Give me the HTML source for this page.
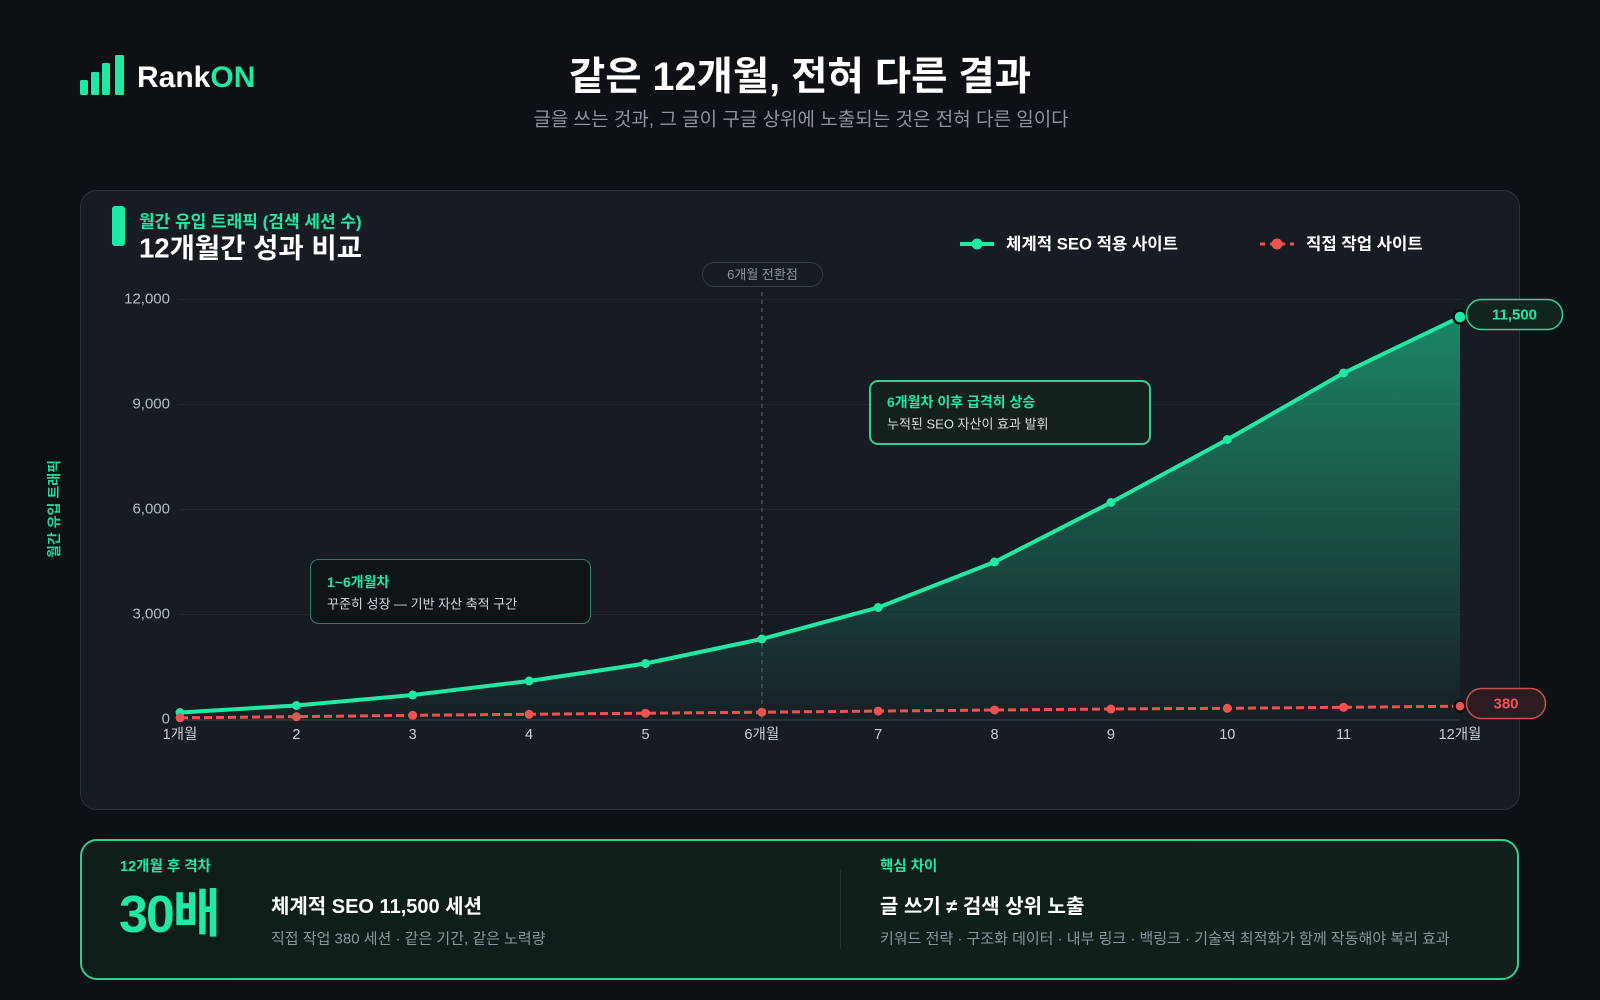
<!DOCTYPE html>
<html lang="ko">
<head>
<meta charset="utf-8">
<style>
  html,body{margin:0;padding:0;background:#0d1015;}
  body{width:1600px;height:1000px;overflow:hidden;}
  svg{display:block;}
  text{font-family:"Liberation Sans","Noto Sans CJK KR",sans-serif;}
</style>
</head>
<body>
<svg width="1600" height="1000" viewBox="0 0 1600 1000" xmlns="http://www.w3.org/2000/svg">
  <defs>
    <linearGradient id="gfill" x1="0" y1="317" x2="0" y2="720" gradientUnits="userSpaceOnUse">
      <stop offset="0" stop-color="#20f0aa" stop-opacity="0.5"/>
      <stop offset="1" stop-color="#20f0aa" stop-opacity="0.02"/>
    </linearGradient>
    <linearGradient id="bottombg" x1="0" y1="0" x2="1" y2="0">
      <stop offset="0" stop-color="#0f1d1a"/>
      <stop offset="1" stop-color="#10201d"/>
    </linearGradient>
  </defs>

  <!-- background -->
  <rect x="0" y="0" width="1600" height="1000" fill="#0d1015"/>

  <!-- logo -->
  <rect x="80" y="80" width="8" height="15" rx="1.5" fill="#1fe9a3"/>
  <rect x="91" y="72" width="8" height="23" rx="1.5" fill="#1fe9a3"/>
  <rect x="102" y="63" width="8" height="32" rx="1.5" fill="#1fe9a3"/>
  <rect x="115" y="55" width="9" height="40" rx="1.5" fill="#1fe9a3"/>
  <text x="137" y="87" font-size="30" font-weight="bold" fill="#ffffff">Rank<tspan fill="#1fe9a3">ON</tspan></text>

  <!-- title -->
  <text x="800" y="77" font-size="39.5" font-weight="bold" fill="#ffffff" text-anchor="middle" dominant-baseline="central">같은 12개월, 전혀 다른 결과</text>
  <text x="801" y="120" font-size="19" fill="#8b939d" text-anchor="middle" dominant-baseline="central">글을 쓰는 것과, 그 글이 구글 상위에 노출되는 것은 전혀 다른 일이다</text>

  <!-- chart card -->
  <rect x="80.5" y="190.5" width="1439" height="619" rx="16" fill="#171b22" stroke="#2a3039" stroke-width="1"/>

  <!-- card header -->
  <rect x="112" y="206" width="13" height="40" rx="3" fill="#1fe9a3"/>
  <text x="139" y="222" font-size="17" font-weight="bold" fill="#1fe9a3" dominant-baseline="central">월간 유입 트래픽 (검색 세션 수)</text>
  <text x="139" y="248" font-size="27.5" font-weight="bold" fill="#ffffff" dominant-baseline="central">12개월간 성과 비교</text>

  <!-- legend -->
  <line x1="960" y1="244" x2="994" y2="244" stroke="#1fe9a3" stroke-width="4"/>
  <circle cx="977" cy="244" r="5.5" fill="#1fe9a3"/>
  <text x="1006" y="244" font-size="16.7" font-weight="bold" fill="#ffffff" dominant-baseline="central">체계적 SEO 적용 사이트</text>
  <line x1="1260" y1="244" x2="1294" y2="244" stroke="#ef5350" stroke-width="3" stroke-dasharray="5 5"/>
  <circle cx="1277" cy="244" r="5.5" fill="#ef5350"/>
  <text x="1306" y="244" font-size="16.7" font-weight="bold" fill="#ffffff" dominant-baseline="central">직접 작업 사이트</text>

  <!-- 6 month pill -->
  <rect x="702.5" y="262.5" width="120" height="24" rx="12" fill="#171b22" stroke="#353c45" stroke-width="1"/>
  <text x="762.5" y="274.5" font-size="13" fill="#8d96a0" text-anchor="middle" dominant-baseline="central">6개월 전환점</text>

  <!-- gridlines -->
  <g stroke="#22272f" stroke-width="1">
    <line x1="180" y1="299.5" x2="1460" y2="299.5"/>
    <line x1="180" y1="404.5" x2="1460" y2="404.5"/>
    <line x1="180" y1="509.5" x2="1460" y2="509.5"/>
    <line x1="180" y1="614.5" x2="1460" y2="614.5"/>
  </g>

  <!-- y labels -->
  <g font-size="15" fill="#b4bcc5" text-anchor="end" dominant-baseline="central">
    <text x="170" y="299">12,000</text>
    <text x="170" y="404">9,000</text>
    <text x="170" y="509">6,000</text>
    <text x="170" y="614">3,000</text>
    <text x="170" y="719">0</text>
  </g>

  <!-- y axis title -->
  <text transform="translate(54,509) rotate(-90)" font-size="14" font-weight="bold" fill="#1fd99a" text-anchor="middle" dominant-baseline="central">월간 유입 트래픽</text>

  <!-- vertical dashed line -->
  <line x1="762" y1="292" x2="762" y2="719" stroke="#454c56" stroke-width="1.5" stroke-dasharray="4 4"/>

  <!-- green fill -->
  <path d="M180,712.5 L296.4,705.5 L412.7,695 L529.1,681 L645.5,663.5 L761.8,639 L878.2,607.5 L994.5,562 L1110.9,502.5 L1227.3,439.5 L1343.6,373 L1460,317 L1460,720 L180,720 Z" fill="url(#gfill)"/>

  <!-- baseline -->
  <line x1="180" y1="720" x2="1460" y2="720" stroke="#2c323b" stroke-width="2"/>

  <!-- green line -->
  <path d="M180,712.5 L296.4,705.5 L412.7,695 L529.1,681 L645.5,663.5 L761.8,639 L878.2,607.5 L994.5,562 L1110.9,502.5 L1227.3,439.5 L1343.6,373 L1460,317" fill="none" stroke="#1fe9a3" stroke-width="4" stroke-linejoin="round" stroke-linecap="round"/>
  <g fill="#1fe9a3">
    <circle cx="180" cy="712.5" r="4.5"/>
    <circle cx="296.4" cy="705.5" r="4.5"/>
    <circle cx="412.7" cy="695" r="4.5"/>
    <circle cx="529.1" cy="681" r="4.5"/>
    <circle cx="645.5" cy="663.5" r="4.5"/>
    <circle cx="761.8" cy="639" r="4.5"/>
    <circle cx="878.2" cy="607.5" r="4.5"/>
    <circle cx="994.5" cy="562" r="4.5"/>
    <circle cx="1110.9" cy="502.5" r="4.5"/>
    <circle cx="1227.3" cy="439.5" r="4.5"/>
    <circle cx="1343.6" cy="373" r="4.5"/>
  </g>
  <circle cx="1460" cy="317" r="6.5" fill="#1fe9a3" stroke="#0d1015" stroke-width="2.5"/>

  <!-- red line -->
  <path d="M180,717.8 L296.4,716.7 L412.7,715.3 L529.1,714.3 L645.5,713.2 L761.8,712.2 L878.2,711.1 L994.5,710 L1110.9,709 L1227.3,708.3 L1343.6,707.3 L1460,706.2" fill="none" stroke="#ef5350" stroke-width="3" stroke-dasharray="8 4"/>
  <g fill="#ef5350">
    <circle cx="180" cy="717.8" r="4.5"/>
    <circle cx="296.4" cy="716.7" r="4.5"/>
    <circle cx="412.7" cy="715.3" r="4.5"/>
    <circle cx="529.1" cy="714.3" r="4.5"/>
    <circle cx="645.5" cy="713.2" r="4.5"/>
    <circle cx="761.8" cy="712.2" r="4.5"/>
    <circle cx="878.2" cy="711.1" r="4.5"/>
    <circle cx="994.5" cy="710" r="4.5"/>
    <circle cx="1110.9" cy="709" r="4.5"/>
    <circle cx="1227.3" cy="708.3" r="4.5"/>
    <circle cx="1343.6" cy="707.3" r="4.5"/>
  </g>
  <circle cx="1460" cy="706.2" r="5.5" fill="#ef5350" stroke="#0d1015" stroke-width="2.5"/>

  <!-- x labels -->
  <g font-size="14.5" fill="#c8ced6" text-anchor="middle" dominant-baseline="central">
    <text x="180" y="735">1개월</text>
    <text x="296.4" y="735">2</text>
    <text x="412.7" y="735">3</text>
    <text x="529.1" y="735">4</text>
    <text x="645.5" y="735">5</text>
    <text x="761.8" y="735">6개월</text>
    <text x="878.2" y="735">7</text>
    <text x="994.5" y="735">8</text>
    <text x="1110.9" y="735">9</text>
    <text x="1227.3" y="735">10</text>
    <text x="1343.6" y="735">11</text>
    <text x="1460" y="735">12개월</text>
  </g>

  <!-- end labels -->
  <rect x="1466.5" y="299.5" width="96" height="30" rx="15" fill="#12241e" stroke="#2fd69a" stroke-width="1.5"/>
  <text x="1514.5" y="315" font-size="15" font-weight="bold" fill="#1fe9a3" text-anchor="middle" dominant-baseline="central">11,500</text>
  <rect x="1466.5" y="688.5" width="79" height="30" rx="15" fill="#2a1c20" stroke="#c9504d" stroke-width="1.5"/>
  <text x="1506" y="704" font-size="15" font-weight="bold" fill="#ef5350" text-anchor="middle" dominant-baseline="central">380</text>

  <!-- annotation 1 -->
  <rect x="310.5" y="559.5" width="280" height="64" rx="8" fill="#0f1419" stroke="#2f7f64" stroke-width="1"/>
  <text x="327" y="582" font-size="14" font-weight="bold" fill="#1fe9a3" dominant-baseline="central">1~6개월차</text>
  <text x="327" y="604" font-size="13" fill="#d3d8dd" dominant-baseline="central">꾸준히 성장 — 기반 자산 축적 구간</text>

  <!-- annotation 2 -->
  <rect x="870" y="381" width="280" height="63" rx="8" fill="#13201d" stroke="#34cf94" stroke-width="2"/>
  <text x="887" y="402" font-size="14" font-weight="bold" fill="#1fe9a3" dominant-baseline="central">6개월차 이후 급격히 상승</text>
  <text x="887" y="424" font-size="13" fill="#d8dde2" dominant-baseline="central">누적된 SEO 자산이 효과 발휘</text>

  <!-- bottom card -->
  <rect x="81" y="840" width="1437" height="139" rx="16" fill="url(#bottombg)" stroke="#35cc90" stroke-width="2"/>
  <text x="120" y="867" font-size="14.5" font-weight="bold" fill="#1fe9a3" dominant-baseline="central">12개월 후 격차</text>
  <text x="119" y="915" font-size="52" font-weight="bold" fill="#1fe9a3" dominant-baseline="central" letter-spacing="-2">30배</text>
  <text x="271" y="907" font-size="20" font-weight="bold" fill="#ffffff" dominant-baseline="central">체계적 SEO 11,500 세션</text>
  <text x="271" y="939" font-size="15" fill="#8b949e" dominant-baseline="central">직접 작업 380 세션 · 같은 기간, 같은 노력량</text>

  <line x1="840.5" y1="870" x2="840.5" y2="949" stroke="#26332f" stroke-width="1"/>

  <text x="880" y="867" font-size="14.5" font-weight="bold" fill="#1fe9a3" dominant-baseline="central">핵심 차이</text>
  <text x="880" y="907" font-size="20" font-weight="bold" fill="#ffffff" dominant-baseline="central">글 쓰기 ≠ 검색 상위 노출</text>
  <text x="880" y="939" font-size="15" fill="#8b949e" dominant-baseline="central">키워드 전략 · 구조화 데이터 · 내부 링크 · 백링크 · 기술적 최적화가 함께 작동해야 복리 효과</text>
</svg>
</body>
</html>
